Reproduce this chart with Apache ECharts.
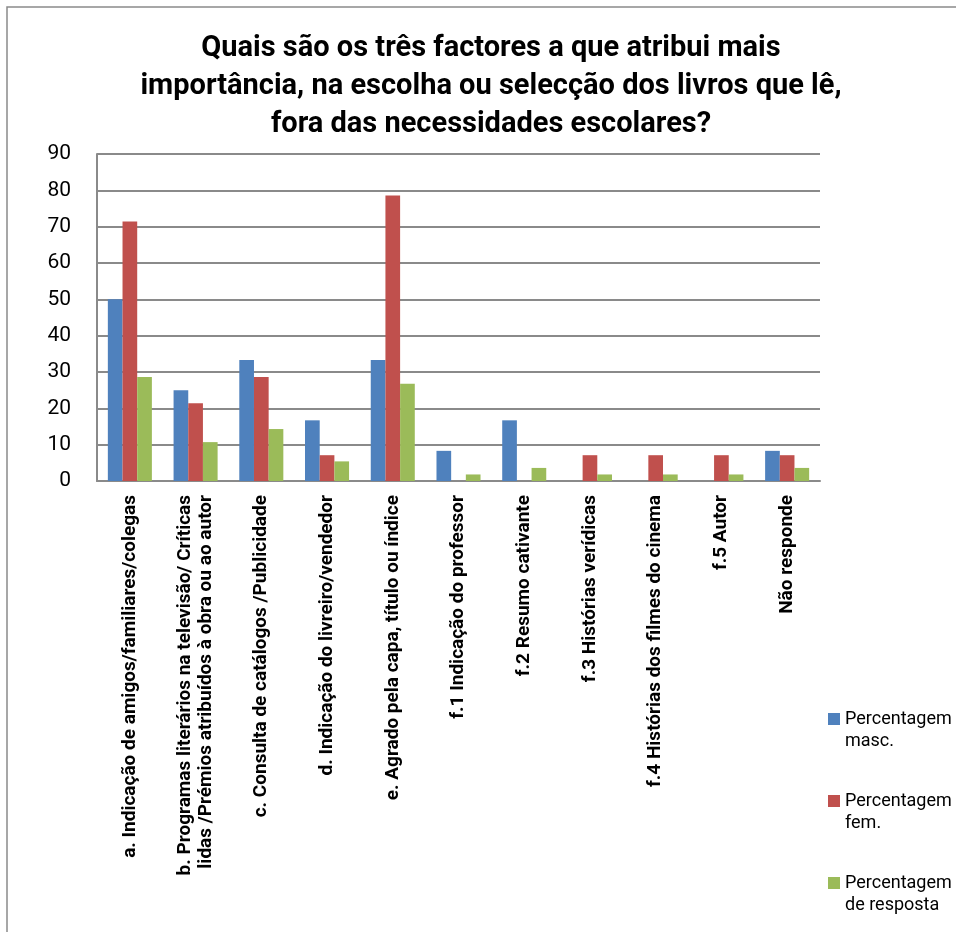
<!DOCTYPE html>
<html>
<head>
<meta charset="utf-8">
<script src="https://cdn.jsdelivr.net/npm/echarts@6/dist/echarts.min.js"></script>
<style>
html,body{margin:0;padding:0;background:#fff;}
#chart{width:956px;height:932px;}
</style>
</head>
<body>
<div id="chart"></div>
<script>
const categories = [
  'a. Indicação de amigos/familiares/colegas',
  'b. Programas literários na televisão/ Críticas\nlidas /Prémios atribuídos à obra ou ao autor',
  'c. Consulta de catálogos /Publicidade',
  'd. Indicação do livreiro/vendedor',
  'e. Agrado pela capa, título ou índice',
  'f.1 Indicação do professor',
  'f.2 Resumo cativante',
  'f.3 Histórias verídicas',
  'f.4 Histórias dos filmes do cinema',
  'f.5 Autor',
  'Não responde'
];
const seriesNames = ['Percentagem masc.', 'Percentagem fem.', 'Percentagem de resposta'];
const masc = [50, 25, 33.3, 16.7, 33.3, 8.3, 16.7, 0, 0, 0, 8.3];
const fem = [71.4, 21.4, 28.6, 7.1, 78.6, 0, 0, 7.1, 7.1, 7.1, 7.1];
const resposta = [28.6, 10.7, 14.3, 5.4, 26.8, 1.8, 3.6, 1.8, 1.8, 1.8, 3.6];
const yTicks = [0, 10, 20, 30, 40, 50, 60, 70, 80, 90];
const colors = ['#4F81BD', '#C0504D', '#9BBB59'];
const legendLabels = {
  'Percentagem masc.': '\nPercentagem\nmasc.',
  'Percentagem fem.': '\nPercentagem\nfem.',
  'Percentagem de resposta': '\nPercentagem\nde resposta'
};

const chart = echarts.init(document.getElementById('chart'), null, {renderer: 'canvas'});
const font = 'Roboto, "Open Sans", sans-serif';
const seriesData = [masc, fem, resposta];

chart.setOption({
  backgroundColor: '#ffffff',
  animation: false,
  color: colors,
  title: {
    text: 'Quais são os três factores a que atribui mais\nimportância, na escolha ou selecção dos livros que lê,\nfora das necessidades escolares?',
    left: 486,
    textAlign: 'center',
    top: 25,
    textStyle: {
      fontFamily: font,
      fontWeight: 'bold',
      fontSize: 29,
      lineHeight: 38,
      color: '#000'
    }
  },
  graphic: [{
    type: 'rect',
    shape: {x: 7, y: 7, width: 1200, height: 1200},
    style: {fill: 'none', stroke: '#8a8a8a', lineWidth: 1.5},
    silent: true,
    z: -1
  }],
  legend: {
    orient: 'vertical',
    left: 828,
    top: 686,
    padding: 0,
    itemWidth: 12,
    itemHeight: 12,
    itemGap: 16,
    icon: 'rect',
    data: seriesNames,
    formatter: function (name) { return legendLabels[name]; },
    textStyle: {
      fontFamily: font,
      fontSize: 18,
      lineHeight: 22,
      color: '#000'
    }
  },
  grid: {
    left: 97,
    right: 136,
    top: 154,
    bottom: 451,
    containLabel: false
  },
  xAxis: {
    type: 'category',
    data: categories,
    axisLine: {show: true, lineStyle: {color: '#8a8a8a', width: 2}},
    axisTick: {show: false},
    axisLabel: {
      interval: 0,
      rotate: 90,
      margin: 14,
      fontFamily: font,
      fontWeight: 'bold',
      fontSize: 19,
      lineHeight: 21,
      color: '#000'
    }
  },
  yAxis: {
    type: 'value',
    min: 0,
    max: 90,
    interval: 10,
    axisLine: {show: true, lineStyle: {color: '#8a8a8a', width: 2}},
    axisTick: {show: false},
    splitLine: {show: true, lineStyle: {color: '#8a8a8a', width: 2}},
    axisLabel: {
      margin: 26,
      fontFamily: font,
      fontSize: 21,
      color: '#000',
      formatter: function (v) { return yTicks.indexOf(v) >= 0 ? String(v) : ''; }
    }
  },
  series: seriesNames.map(function (n, i) {
    return {
      name: n,
      type: 'bar',
      data: seriesData[i],
      barGap: '0%',
      barCategoryGap: '33%',
      itemStyle: {color: colors[i]}
    };
  })
});
</script>
</body>
</html>
